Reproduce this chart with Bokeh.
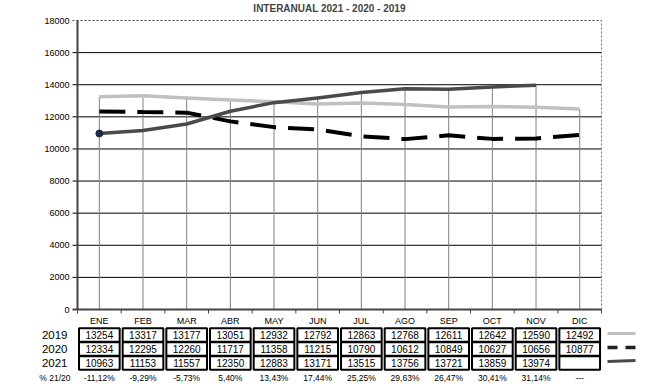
from bokeh.plotting import figure
from bokeh.models import Range1d
from bokeh.core.properties import value
from bokeh.embed import file_html
from bokeh.resources import INLINE

# ---------------- data ----------------
months = ["ENE", "FEB", "MAR", "ABR", "MAY", "JUN", "JUL", "AGO", "SEP", "OCT", "NOV", "DIC"]
series_names = ["2019", "2020", "2021"]
v2019 = [13254, 13317, 13177, 13051, 12932, 12792, 12863, 12768, 12611, 12642, 12590, 12492]
v2020 = [12334, 12295, 12260, 11717, 11358, 11215, 10790, 10612, 10849, 10627, 10656, 10877]
v2021 = [10963, 11153, 11557, 12350, 12883, 13171, 13515, 13756, 13721, 13859, 13974, None]
pct_label = "% 21/20"
pct = ["-11,12%", "-9,29%", "-5,73%", "5,40%", "13,43%", "17,44%", "25,25%",
       "29,63%", "26,47%", "30,41%", "31,14%", "---"]
yticks = [0, 2000, 4000, 6000, 8000, 10000, 12000, 14000, 16000, 18000]
title_text = "INTERANUAL 2021 - 2020 - 2019"

# ---------------- layout (page pixels) ----------------
W, H = 658, 391
TOP = 13                 # height of title band (frame top, px)
COL = 43.67              # px per category
X_LEFT = 77              # px of left edge of plot area (category -0.5)
Y0 = 309                 # px of value 0
Y18 = 20                 # px of value 18000
ymax = yticks[-1]
upp = ymax / (Y0 - Y18)  # data units per px

def px2x(px):
    return -0.5 + (px - X_LEFT) / COL

def px2y(py):
    return (Y0 - py) * upp

FONT = value("Liberation Sans")

p = figure(width=W, height=H, output_backend="svg", toolbar_location=None,
           x_range=Range1d(px2x(0), px2x(W)), y_range=Range1d(px2y(H), px2y(TOP)),
           x_axis_location=None, y_axis_location=None, title=title_text,
           min_border_left=0, min_border_right=0, min_border_bottom=0, min_border_top=TOP)
p.xgrid.visible = False
p.ygrid.visible = False
p.outline_line_color = None
p.background_fill_color = "white"
p.border_fill_color = "white"
p.title.text_font = "Liberation Sans"
p.title.text_font_size = "10px"
p.title.text_font_style = "bold"
p.title.align = "center"
p.title.offset = -12
p.title.standoff = 0

n = len(months)
xs = list(range(n))
left_edge = -0.5
right_edge = n - 0.5
tick_left = px2x(X_LEFT - 5)

# ---------------- grid / frame ----------------
inner = yticks[1:-1]
p.segment(x0=[tick_left] * len(inner), y0=inner, x1=[right_edge] * len(inner), y1=inner,
          line_color="black", line_width=1)
p.segment(x0=[tick_left], y0=[ymax], x1=[right_edge], y1=[ymax],
          line_color="#444444", line_width=1, line_dash="2 2")
p.segment(x0=[right_edge], y0=[0], x1=[right_edge], y1=[ymax],
          line_color="#777777", line_width=1, line_dash="2 2")

# drop lines from highest value to axis
tops = [max(v for v in (a, b, c) if v is not None) for a, b, c in zip(v2019, v2020, v2021)]
p.segment(x0=xs, y0=[0] * n, x1=xs, y1=tops, line_color="#808080", line_width=1)

# axes lines
p.segment(x0=[left_edge], y0=[0], x1=[left_edge], y1=[ymax], line_color="#444444", line_width=2)
p.segment(x0=[tick_left], y0=[0], x1=[right_edge], y1=[0], line_color="#444444", line_width=2)
bounds = [left_edge + k for k in range(n + 1)]
p.segment(x0=bounds, y0=[0] * len(bounds), x1=bounds, y1=[px2y(Y0 + 4)] * len(bounds),
          line_color="#444444", line_width=1)

# y tick labels
p.text(x=[px2x(X_LEFT - 8)] * len(yticks), y=yticks, text=[str(t) for t in yticks],
       text_align="right", text_baseline="middle", text_font=FONT,
       text_font_size="9px", text_color="black")

# ---------------- series ----------------
p.line(xs, v2019, line_color="#c0c0c0", line_width=3.5, line_join="round")
p.line(xs, v2020, line_color="black", line_width=4, line_dash="26 12")
x21 = [x for x, v in zip(xs, v2021) if v is not None]
y21 = [v for v in v2021 if v is not None]
p.line(x21, y21, line_color="#4a4a4a", line_width=3.5, line_join="round")
p.scatter([x21[0]], [y21[0]], size=7, fill_color="#1c2b44", line_color="#1c2b44")

# ---------------- table ----------------
p.text(x=xs, y=[px2y(320)] * n, text=months, text_align="center", text_baseline="middle",
       text_font=FONT, text_font_size="9px", text_color="black")

row_px = [334.5, 348.5, 362.5]
rows = [v2019, v2020, v2021]
cell_w = 1 - 3 / COL
cell_h = 13.5 * upp
for rp, vals in zip(row_px, rows):
    ry = px2y(rp)
    p.rect(x=xs, y=[ry] * n, width=cell_w, height=cell_h, fill_color="white",
           line_color="black", line_width=2)
    p.text(x=xs, y=[ry] * n, text=["" if v is None else str(v) for v in vals],
           text_align="center", text_baseline="middle", text_font=FONT,
           text_font_size="10px", text_color="black")

p.text(x=[px2x(67)] * 3, y=[px2y(rp) for rp in row_px], text=series_names,
       text_align="right", text_baseline="middle", text_font=FONT,
       text_font_size="11.5px", text_color="black")

pct_y = px2y(377)
p.text(x=[px2x(70)], y=[pct_y], text=[pct_label], text_align="right", text_baseline="middle",
       text_font=FONT, text_font_size="8.5px", text_color="black")
p.text(x=xs, y=[pct_y] * n, text=pct, text_align="center", text_baseline="middle",
       text_font=FONT, text_font_size="8.5px", text_color="black")

# legend swatches
sx0, sx1 = px2x(607), px2x(635)
p.line([sx0, sx1], [px2y(333)] * 2, line_color="#c0c0c0", line_width=3)
p.line([sx0, sx1], [px2y(347)] * 2, line_color="#222222", line_width=3.5, line_dash="10 8")
p.line([sx0, sx1], [px2y(361), px2y(360)], line_color="#4a4a4a", line_width=3)

open("out.html", "w").write(file_html(p, INLINE))
